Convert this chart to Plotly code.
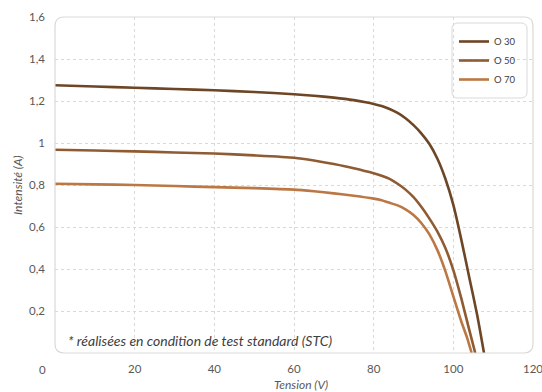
import plotly.graph_objects as go

# ---- data ----
series_names = ["O 30", "O 50", "O 70"]

v_o30 = [0, 10, 20, 30, 40, 50, 60, 65, 70, 75, 78, 80, 82, 84, 86, 88, 90, 92, 94, 96, 98, 100, 102, 104, 106, 107.7]
i_o30 = [1.275, 1.269, 1.263, 1.257, 1.251, 1.243, 1.232, 1.225, 1.216, 1.204, 1.194, 1.186, 1.176, 1.162, 1.143,
         1.118, 1.085, 1.045, 0.995, 0.925, 0.83, 0.705, 0.54, 0.36, 0.18, 0.0]

v_o50 = [0, 10, 20, 30, 40, 50, 60, 65, 70, 75, 80, 82, 84, 86, 88, 90, 92, 94, 96, 98, 100, 102, 104, 105.5]
i_o50 = [0.968, 0.964, 0.960, 0.955, 0.950, 0.941, 0.930, 0.917, 0.900, 0.880, 0.856, 0.844, 0.829, 0.806,
         0.778, 0.742, 0.695, 0.640, 0.578, 0.50, 0.395, 0.26, 0.11, 0.0]

v_o70 = [0, 10, 20, 30, 40, 50, 60, 65, 70, 75, 80, 82, 84, 86, 88, 90, 92, 94, 96, 98, 100, 102, 103.5, 104.6]
i_o70 = [0.806, 0.803, 0.800, 0.795, 0.790, 0.785, 0.778, 0.770, 0.760, 0.749, 0.735, 0.727, 0.715, 0.703,
         0.684, 0.657, 0.618, 0.565, 0.49, 0.39, 0.27, 0.15, 0.07, 0.0]

colors = ["#6d4626", "#8f5b32", "#bb7844"]

x_ticks = [20, 40, 60, 80, 100, 120]
y_ticks = [0.2, 0.4, 0.6, 0.8, 1.0, 1.2, 1.4, 1.6]
y_ticktext = ["0,2", "0,4", "0,6", "0,8", "1", "1,2", "1,4", "1,6"]

W, H = 542, 392
L, R, T, B = 55, 9, 17, 39
pw, ph = W - L - R, H - T - B

font_family = "Lato, 'Open Sans', sans-serif"
label_color = "#595959"

fig = go.Figure()
for name, vx, iy, c in zip(series_names, [v_o30, v_o50, v_o70], [i_o30, i_o50, i_o70], colors):
    fig.add_trace(go.Scatter(
        x=vx, y=iy, mode="lines", name=name,
        line=dict(color=c, width=2.6, shape="spline", smoothing=0.5),
    ))

def rounded_path(x0, y0, x1, y1, rx, ry):
    return (f"M {x0+rx},{y0} L {x1-rx},{y0} Q {x1},{y0} {x1},{y0+ry} "
            f"L {x1},{y1-ry} Q {x1},{y1} {x1-rx},{y1} L {x0+rx},{y1} "
            f"Q {x0},{y1} {x0},{y1-ry} L {x0},{y0+ry} Q {x0},{y0} {x0+rx},{y0} Z")

def px_x(p):
    return (p - L) / pw

def px_y(p):
    return (H - B - p) / ph

shapes = [
    dict(type="path", xref="paper", yref="paper",
         path=rounded_path(0, 0, 1, 1, 9 / pw, 9 / ph),
         line=dict(color="#d9d9d9", width=1.2), layer="above"),
    dict(type="path", xref="paper", yref="paper",
         path=rounded_path(px_x(452), px_y(98), px_x(527), px_y(23), 6 / pw, 6 / ph),
         line=dict(color="#d9d9d9", width=1), fillcolor="white", layer="below"),
]

fig.update_layout(
    width=W, height=H,
    margin=dict(l=L, r=R, t=T, b=B, autoexpand=False),
    paper_bgcolor="white", plot_bgcolor="white",
    font=dict(family=font_family, color=label_color, size=11.5),
    showlegend=True,
    legend=dict(
        x=px_x(454), y=px_y(27), xanchor="left", yanchor="top",
        bgcolor="rgba(0,0,0,0)", borderwidth=0,
        font=dict(size=9.5, color="#404040", family=font_family),
        itemwidth=30, tracegroupgap=0,
    ),
    shapes=shapes,
    xaxis=dict(
        range=[0, 120], tickvals=x_ticks, ticktext=[str(v) for v in x_ticks],
        showgrid=True, gridcolor="#d9d9d9", griddash="dot", gridwidth=1,
        zeroline=False, showline=False, ticks="", ticklabelstandoff=7,
        ticklabeloverflow="allow", automargin=False,
        tickfont=dict(size=11.5, color=label_color),
    ),
    yaxis=dict(
        range=[0, 1.6], tickvals=y_ticks, ticktext=y_ticktext,
        showgrid=True, gridcolor="#d9d9d9", griddash="dot", gridwidth=1,
        zeroline=False, showline=False, ticks="", ticklabelstandoff=9,
        automargin=False,
        tickfont=dict(size=11.5, color=label_color),
    ),
    annotations=[
        dict(text="<i>* réalisées en condition de test standard (STC)</i>",
             xref="paper", yref="paper", x=px_x(66), y=px_y(340),
             xanchor="left", yanchor="middle", showarrow=False,
             font=dict(size=14, color="#404040", family=font_family)),
        dict(text="0", xref="paper", yref="paper", x=px_x(42), y=px_y(369),
             xanchor="center", yanchor="middle", showarrow=False,
             font=dict(size=11.5, color=label_color, family=font_family)),
        dict(text="<i>Tension (V)</i>", xref="paper", yref="paper", x=px_x(301), y=px_y(384.5),
             xanchor="center", yanchor="middle", showarrow=False,
             font=dict(size=12, color=label_color, family=font_family)),
        dict(text="<i>Intensité (A)</i>", xref="paper", yref="paper", x=px_x(17), y=px_y(185),
             xanchor="center", yanchor="middle", showarrow=False, textangle=-90,
             font=dict(size=12, color=label_color, family=font_family)),
    ],
)

fig.write_html(
    "out.html",
    config={"displayModeBar": False},
    post_script="document.body.style.margin='0';document.body.style.overflow='hidden';",
)
